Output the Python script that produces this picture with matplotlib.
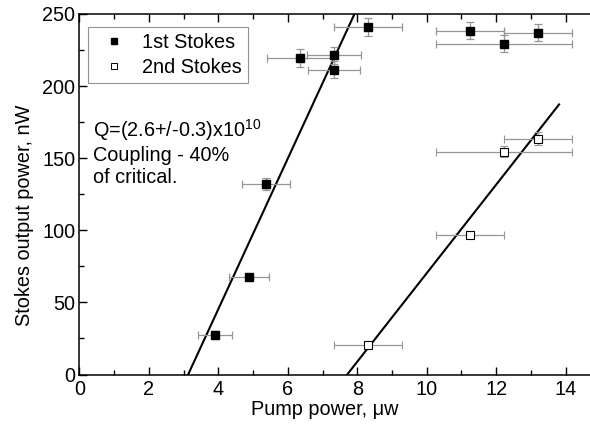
import matplotlib
matplotlib.use("Agg")
import matplotlib.pyplot as plt
import numpy as np
from matplotlib.ticker import MultipleLocator

plt.rcParams["font.family"] = ["Liberation Sans", "DejaVu Sans"]
plt.rcParams["mathtext.default"] = "regular"

FS = 14.3

# 1st Stokes (filled squares)
s1_pump = [3.90, 4.88, 5.37, 6.35, 7.34, 7.34, 8.32, 11.24, 12.22, 13.19]
s1_power = [27.3, 67.6, 132.0, 219.5, 221.3, 211.3, 241.0, 238.4, 229.4, 237.0]
s1_xerr = [0.49, 0.58, 0.68, 0.96, 0.78, 0.75, 0.98, 0.97, 1.96, 0.98]
s1_yerr = [3, 2, 4, 6, 6, 6, 6, 6, 6, 6]

# 2nd Stokes (open squares)
s2_pump = [8.32, 11.24, 12.22, 13.19]
s2_power = [20.8, 97.0, 154.6, 163.6]
s2_xerr = [0.98, 0.98, 1.96, 0.98]
s2_yerr = [2, 2, 4, 4.5]

# linear fits: threshold (x at y=0), slope, x end of drawn line
fit_threshold = [3.13, 7.71]
fit_slope = [52.2, 30.7]
fit_xend = [7.92, 13.81]

fig = plt.figure(figsize=(5.9, 4.25), dpi=100)
ax = fig.add_axes([0.1346, 0.1188, 0.8654, 0.8483])

err_kw = dict(ecolor="#969696", elinewidth=0.9, capsize=3, capthick=0.9, linestyle="none")
ax.errorbar(s1_pump, s1_power, xerr=s1_xerr, yerr=s1_yerr, marker="s", ms=5.6,
            mfc="black", mec="black", zorder=3, **err_kw)
ax.errorbar(s2_pump, s2_power, xerr=s2_xerr, yerr=s2_yerr, marker="s", ms=5.4,
            mfc="white", mec="black", mew=0.8, zorder=3, **err_kw)

for x0, k, x1 in zip(fit_threshold, fit_slope, fit_xend):
    xs = np.array([x0, x1])
    ax.plot(xs, k * (xs - x0), color="black", lw=1.5, zorder=2)

# legend proxies
h1, = ax.plot([], [], "s", ms=4, mfc="black", mec="black", ls="none")
h2, = ax.plot([], [], "s", ms=4, mfc="white", mec="black", mew=0.7, ls="none")
leg = ax.legend([h1, h2], ["1st Stokes", "2nd Stokes"], loc="upper left",
                bbox_to_anchor=(0.016, 0.963), fontsize=FS, frameon=True,
                fancybox=False, edgecolor="#777777", borderpad=0.3,
                handletextpad=0.35, labelspacing=0.3, handlelength=2.1,
                borderaxespad=0)
leg.get_frame().set_linewidth(0.8)

ax.text(0.027, 0.715, "Q=(2.6+/-0.3)x10$^{10}$\nCoupling - 40%\nof critical.",
        transform=ax.transAxes, fontsize=FS, va="top", ha="left",
        linespacing=1.2)

ax.set_xlim(0, 14.70)
ax.set_ylim(0, 250)
ax.xaxis.set_major_locator(MultipleLocator(2))
ax.xaxis.set_minor_locator(MultipleLocator(1))
ax.yaxis.set_major_locator(MultipleLocator(50))
ax.yaxis.set_minor_locator(MultipleLocator(25))
ax.tick_params(which="both", direction="in", top=True, right=False,
               labelsize=FS, width=1)
ax.tick_params(which="major", length=6)
ax.tick_params(which="minor", length=3.5)
ax.tick_params(axis="x", pad=4)
ax.tick_params(axis="y", pad=3)
ax.spines["right"].set_visible(False)
for sp in ["left", "bottom", "top"]:
    ax.spines[sp].set_linewidth(1.1)

ax.set_xlabel("Pump power, μw", fontsize=FS)
ax.set_ylabel("Stokes output power, nW", fontsize=FS)
ax.xaxis.set_label_coords(0.481, -0.072)
ax.yaxis.set_label_coords(-0.088, 0.442)

fig.savefig("out.png", dpi=100)
